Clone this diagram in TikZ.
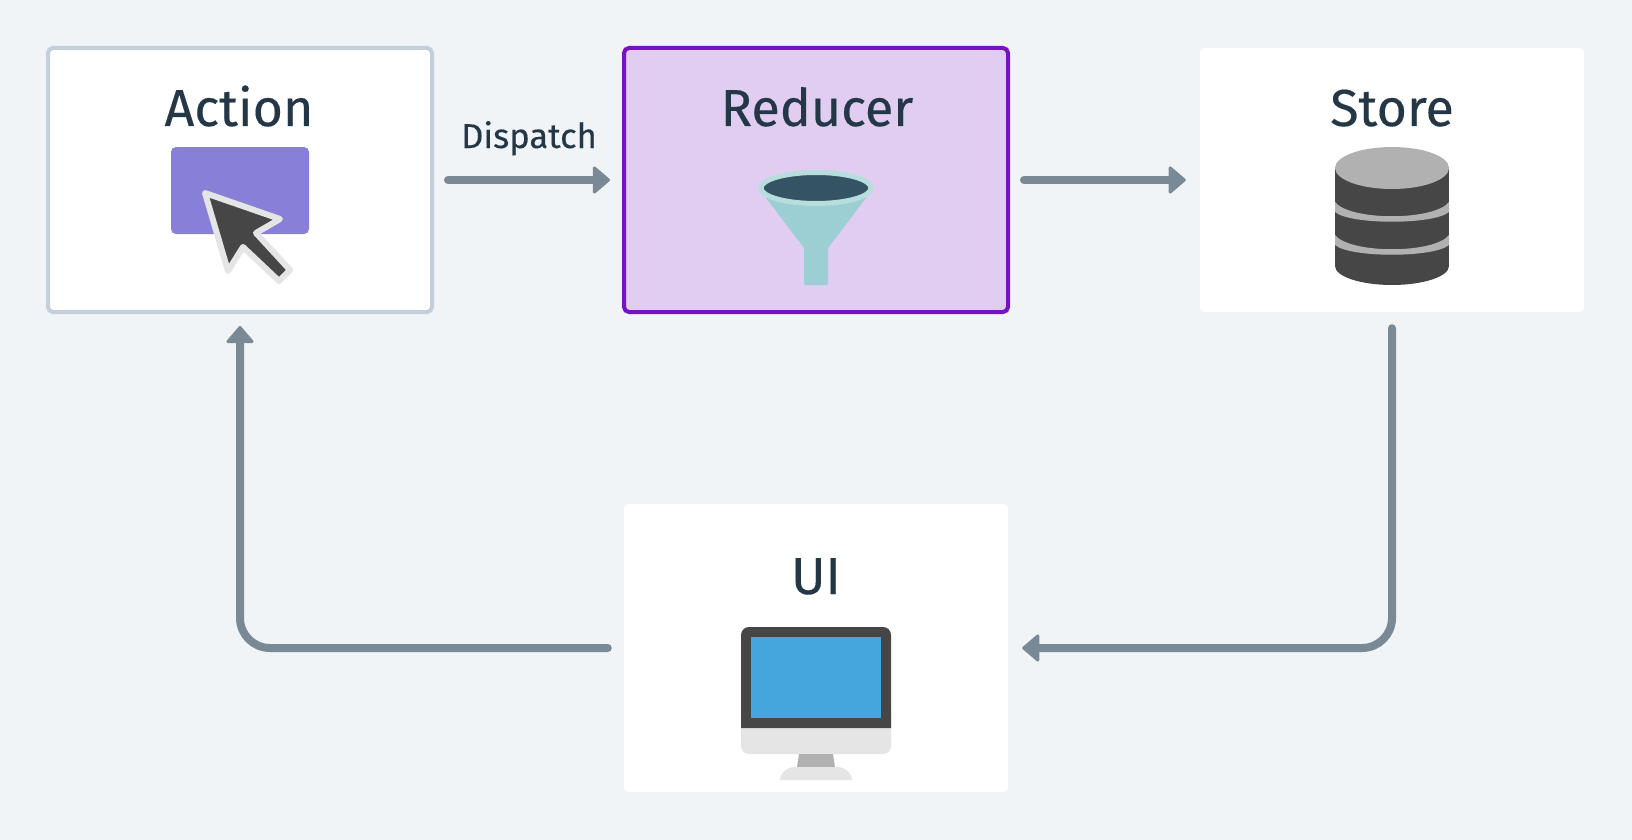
\documentclass[tikz,border=0pt]{standalone}
\usepackage{fontspec}
\setmainfont[FakeBold=0.3]{Fira Sans}
\usetikzlibrary{arrows.meta,positioning,calc}
\definecolor{pagebg}{HTML}{F0F4F7}
\definecolor{inktext}{HTML}{243746}
\definecolor{flowline}{HTML}{7A8996}
\definecolor{actionline}{HTML}{C3D0DB}
\definecolor{reducerline}{HTML}{7611C4}
\definecolor{reducerfill}{HTML}{E1CDF2}
\definecolor{buttonfill}{HTML}{8880D8}
\definecolor{darkicon}{HTML}{464646}
\definecolor{lighticon}{HTML}{E5E5E5}
\definecolor{midicon}{HTML}{B1B1B1}
\definecolor{funnelfill}{HTML}{9CCFD3}
\definecolor{funnelrim}{HTML}{B8DDDD}
\definecolor{funnelhole}{HTML}{345363}
\definecolor{screenfill}{HTML}{44A6DD}
\tikzset{
    card/.style={fill=white, rounded corners=5, minimum width=384, minimum height=264, inner sep=0},
    title/.style={text=inktext, font=\fontsize{52}{52}\selectfont, anchor=base},
    flow/.style={draw=flowline, line width=8, line cap=round, rounded corners=30,
        -{Triangle[length=18pt,width=30pt,line width=3pt,round]}},
}
\begin{document}
\begin{tikzpicture}[x=1pt,y=-1pt]
    \useasboundingbox[fill=pagebg] (0,0) rectangle (1632,840);

    % the four cards
    \node[card, draw=actionline, line width=4] (action) at (240,180) {};
    \node[card, draw=reducerline, fill=reducerfill, line width=4] (reducer) at (816,180) {};
    \node[card] (store) at (1392,180) {};
    \node[card, minimum height=288] (ui) at (816,648) {};

    \node[title] (actionlabel) at (239,126) {Action};
    \node[title] (reducerlabel) at (817,126) {Reducer};
    \node[title] (storelabel) at (1392,126) {Store};
    \node[title] (uilabel) at (816,594) {UI};

    % connectors
    \coordinate (leftcorner) at (240,648);
    \coordinate (rightcorner) at (1392,648);
    \draw[flow] ([xshift=14]action.east) -- ([xshift=-12]reducer.west)
        node[midway, anchor=base, yshift=32pt, inner sep=0, text=inktext, font=\fontsize{34.5}{35}\selectfont] (dispatch) {Dispatch};
    \draw[flow] ([xshift=14]reducer.east) -- ([xshift=-14]store.west);
    \draw[flow] ([yshift=-16]store.south) -- (rightcorner) -- ([xshift=14]ui.east);
    \draw[flow] ([xshift=-16]ui.west) -- (leftcorner) -- ([yshift=-12]action.south);

    % button with pointer
    \fill[buttonfill, rounded corners=5] (171,147) rectangle (309,234);
    \draw[lighticon, fill=darkicon, line width=6, line join=round]
        (205,193) -- (280,219) -- (256,233) -- (290,270) -- (279,281) -- (243,247) -- (228,271) -- cycle;

    % funnel
    \fill[funnelfill, rounded corners=2] (804,240) rectangle (828,285);
    \fill[funnelfill] (760,190) -- (872,190) -- (828,248) -- (804,248) -- cycle;
    \draw[funnelrim, fill=funnelhole, line width=5] (816,188) ellipse (55 and 15.5);

    % database
    \fill[darkicon] (1335,168) rectangle (1449,266);
    \fill[darkicon] (1392,266) ellipse (57 and 19);
    \foreach \ringy in {0,33} {
        \fill[midicon] (1335,202+\ringy) .. controls (1350,221+\ringy) and (1434,221+\ringy) .. (1449,202+\ringy)
            -- (1449,212+\ringy) .. controls (1434,225+\ringy) and (1350,225+\ringy) .. (1335,212+\ringy) -- cycle;
    }
    \fill[midicon] (1392,168) ellipse (57 and 21);

    % monitor
    \fill[lighticon, rounded corners=8] (741,700) rectangle (891,754);
    \fill[darkicon] (741,728) [rounded corners=8] -- (741,627) -- (891,627) [sharp corners] -- (891,728) -- cycle;
    \fill[screenfill] (751,637) rectangle (881,718);
    \fill[midicon] (799,754) -- (833,754) -- (835,767) -- (797,767) -- cycle;
    \fill[lighticon] (780,780) .. controls (781,772) and (787,767) .. (795,767) -- (837,767)
        .. controls (845,767) and (851,772) .. (852,780) -- cycle;
\end{tikzpicture}
\end{document}
